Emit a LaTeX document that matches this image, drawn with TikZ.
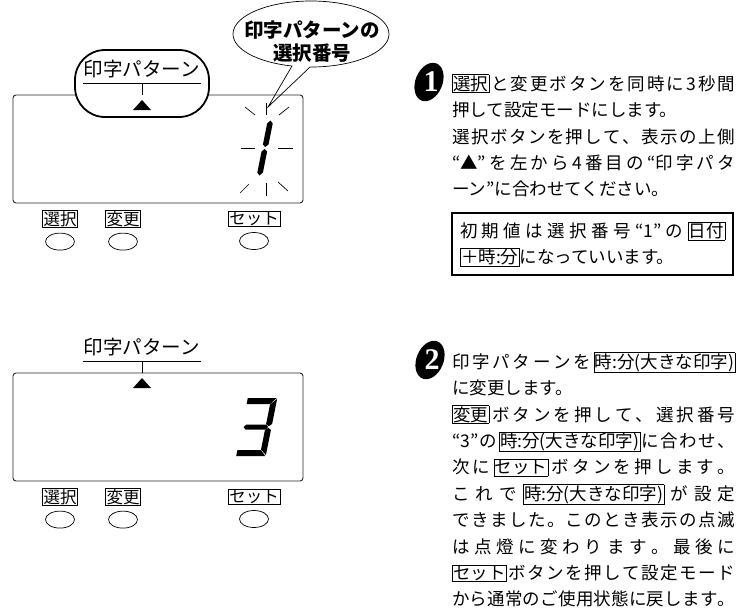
\documentclass[tikz,border=0pt]{standalone}
\usepackage{fontspec}
\newfontfamily\jp{Noto Sans CJK JP}
\newfontfamily\numfont{Liberation Serif}
\usetikzlibrary{positioning,shapes.geometric}
\setlength\fboxsep{0.6pt}
\setlength\fboxrule{0.5pt}
\newcommand\kb[1]{\fbox{#1}}
% spread one line of Japanese text over a fixed width
\ExplSyntaxOn
\NewDocumentCommand\jline{O{283pt}m}
  {\hbox_to_wd:nn {#1} {\tl_map_inline:nn {#2} {##1\hfil}\unskip}}
\ExplSyntaxOff

\begin{document}
\begin{tikzpicture}[x=1pt,y=-1pt,
		lcd/.style={draw=black!85,line width=0.9pt,rounded corners=3pt},
		ring/.style={draw,fill=white,line width=1.8pt,rounded corners=30pt,
				minimum width=134pt,minimum height=67pt},
		bar/.style={line width=0.8pt},
		ray/.style={line width=0.7pt},
		seg/.style={fill=black},
		key/.style={draw,line width=0.7pt,inner xsep=1.2pt,inner ysep=0.8pt,
				font=\jp\fontsize{16.5}{16.5}\selectfont},
		btn/.style={draw,ellipse,line width=0.7pt,minimum width=29pt,
				minimum height=17pt,inner sep=0pt},
		lbl/.style={inner sep=0pt,font=\jp\fontsize{19.5}{19.5}\selectfont},
		bubtxt/.style={inner sep=0pt,align=center,
				font=\jp\bfseries\fontsize{19.5}{23}\selectfont},
		txt/.style={anchor=west,inner sep=0pt,text height=14pt,text depth=3.5pt,
				font=\jp\fontsize{17.5}{17.5}\selectfont},
		nl/.style={below=8.5pt of #1.south west,anchor=north west},
		note/.style={draw,line width=2.4pt,minimum width=281.5pt,minimum height=62pt,
				text width=265pt,align=left,inner sep=0pt,
				font=\jp\fontsize{17.5}{26}\selectfont},
		badgenum/.style={text=white,inner sep=0pt,
				font=\numfont\bfseries\fontsize{30}{30}\selectfont}
		]
		\useasboundingbox (0,0) rectangle (737,613);

		% the two panels
		\foreach \dy/\n in {0/1,278/2}{
			\begin{scope}[shift={(0,\dy)}]
				\draw[lcd] (13,95) rectangle (303,203);
				\ifnum\n=1 \node[ring] (ring) at (142,83.5) {}; \fi
				\node[lbl] (pat\n) at (142,69) {印字パターン};
				\draw[bar] (83,83) -- (201,83) (142,83) -- (142,95);
				\fill (142,100) -- (151,110) -- (133,110) -- cycle;
				\node[key] (sel\n) at (60,219) {選択};
				\node[key] (chg\n) at (123,219) {変更};
				\node[key] (set\n) at (254,219) {セット};
				\node[btn,below=5pt of sel\n] (bsel\n) {};
				\node[btn,below=5pt of chg\n] (bchg\n) {};
				\node[btn,below=5pt of set\n] (bset\n) {};
			\end{scope}
		}

		% flashing 1
		\begin{scope}[shift={(265,148)},xslant=0.2]
			\fill[seg] (-2.8,-24.5) -- (0,-27.5) -- (2.8,-24.5) -- (2.8,-3.5) -- (0,-1) -- (-2.8,-3.5) -- cycle;
			\fill[seg] (-2.8,3.5) -- (0,1) -- (2.8,3.5) -- (2.8,24.5) -- (0,27.5) -- (-2.8,24.5) -- cycle;
		\end{scope}
		\draw[ray] (266,103) -- (266,115);
		\draw[ray] (245,107) -- (255,115);
		\draw[ray] (289,107) -- (279,115);
		\draw[ray] (241,148) -- (255,148);
		\draw[ray] (278,148) -- (293,148);
		\draw[ray] (240,193) -- (249,184);
		\draw[ray] (266,183) -- (266,196);
		\draw[ray] (288,191) -- (278,182);

		% steady 3
		\begin{scope}[shift={(256,427)},xslant=0.2]
			\fill[seg] (-14,-29) -- (15,-29) -- (9.5,-23) -- (-14,-23) -- cycle;
			\fill[seg] (15.5,-28) -- (15.5,-3) -- (12.5,-0.8) -- (9.5,-3) -- (9.5,-22.5) -- cycle;
			\fill[seg] (-10,-2.5) -- (10,-2.5) -- (12,0) -- (10,2.5) -- (-10,2.5) -- (-12.5,0) -- cycle;
			\fill[seg] (12.5,0.8) -- (15.5,3) -- (15.5,28) -- (9.5,22.5) -- (9.5,3) -- cycle;
			\fill[seg] (-14,23) -- (9.5,23) -- (15,29) -- (-14,29) -- cycle;
		\end{scope}

		% speech bubble
		\coordinate (tip) at (268,107);
		\draw[line width=0.7pt] (tip) -- ([shift={(90.7:78 and 33)}]311,34)
			arc[start angle=90.7,end angle=-255.9,x radius=78,y radius=33] -- cycle;
		\node[bubtxt] (bub) at (312,42) {印字パターンの\\選択番号};

		% step 1
		\fill[rotate around={-22:(429,82)}] (429,82) ellipse[x radius=13.5,y radius=20];
		\node[badgenum] (no1) at (431,82) {1};
		\node[txt] (s1a) at (452,85) {\jline{{\kb{選択}}と変更ボタンを同時に3秒間}};
		\node[txt,nl=s1a] (s1b) {押して設定モードにします。};
		\node[txt,nl=s1b] (s1c) {\jline{選択ボタンを押して、表示の上側}};
		\node[txt,nl=s1c] (s1d) {\jline{{“▲”}を左から4番目の{“印}字パタ}};
		\node[txt,nl=s1d] (s1e) {ーン”に合わせてください。};
		\node[note] (ini) at (592.5,244) {\jline[265pt]{初期値は選択番号{“1”}の{\kb{日付}}}\\
			{\kb{＋時:分}}になっていいます。};

		% step 2
		\fill[rotate around={-22:(430,360)}] (430,360) ellipse[x radius=13.5,y radius=20];
		\node[badgenum] (no2) at (432,360) {2};
		\node[txt] (s2a) at (452,363) {\jline{印字パターンを{\kb{時:分(大きな印字)}}}};
		\node[txt,nl=s2a] (s2b) {に変更します。};
		\node[txt,nl=s2b] (s2c) {\jline{{\kb{変更}}ボタンを押して、選択番号}};
		\node[txt,nl=s2c] (s2d) {\jline{{“3”}の{\kb{時:分(大きな印字)}}に合わせ、}};
		\node[txt,nl=s2d] (s2e) {\jline{次に{\kb{セット}}ボタンを押します。}};
		\node[txt,nl=s2e] (s2f) {\jline{これで{\kb{時:分(大きな印字)}}が設定}};
		\node[txt,nl=s2f] (s2g) {\jline{できました。このとき表示の点滅}};
		\node[txt,nl=s2g] (s2h) {\jline{は点燈に変わります。最後に}};
		\node[txt,nl=s2h] (s2i) {\jline{{\kb{セット}}ボタンを押して設定モード}};
		\node[txt,nl=s2i] (s2j) {\jline{から通常のご使用状態に戻します。}};
	\end{tikzpicture}
\end{document}
